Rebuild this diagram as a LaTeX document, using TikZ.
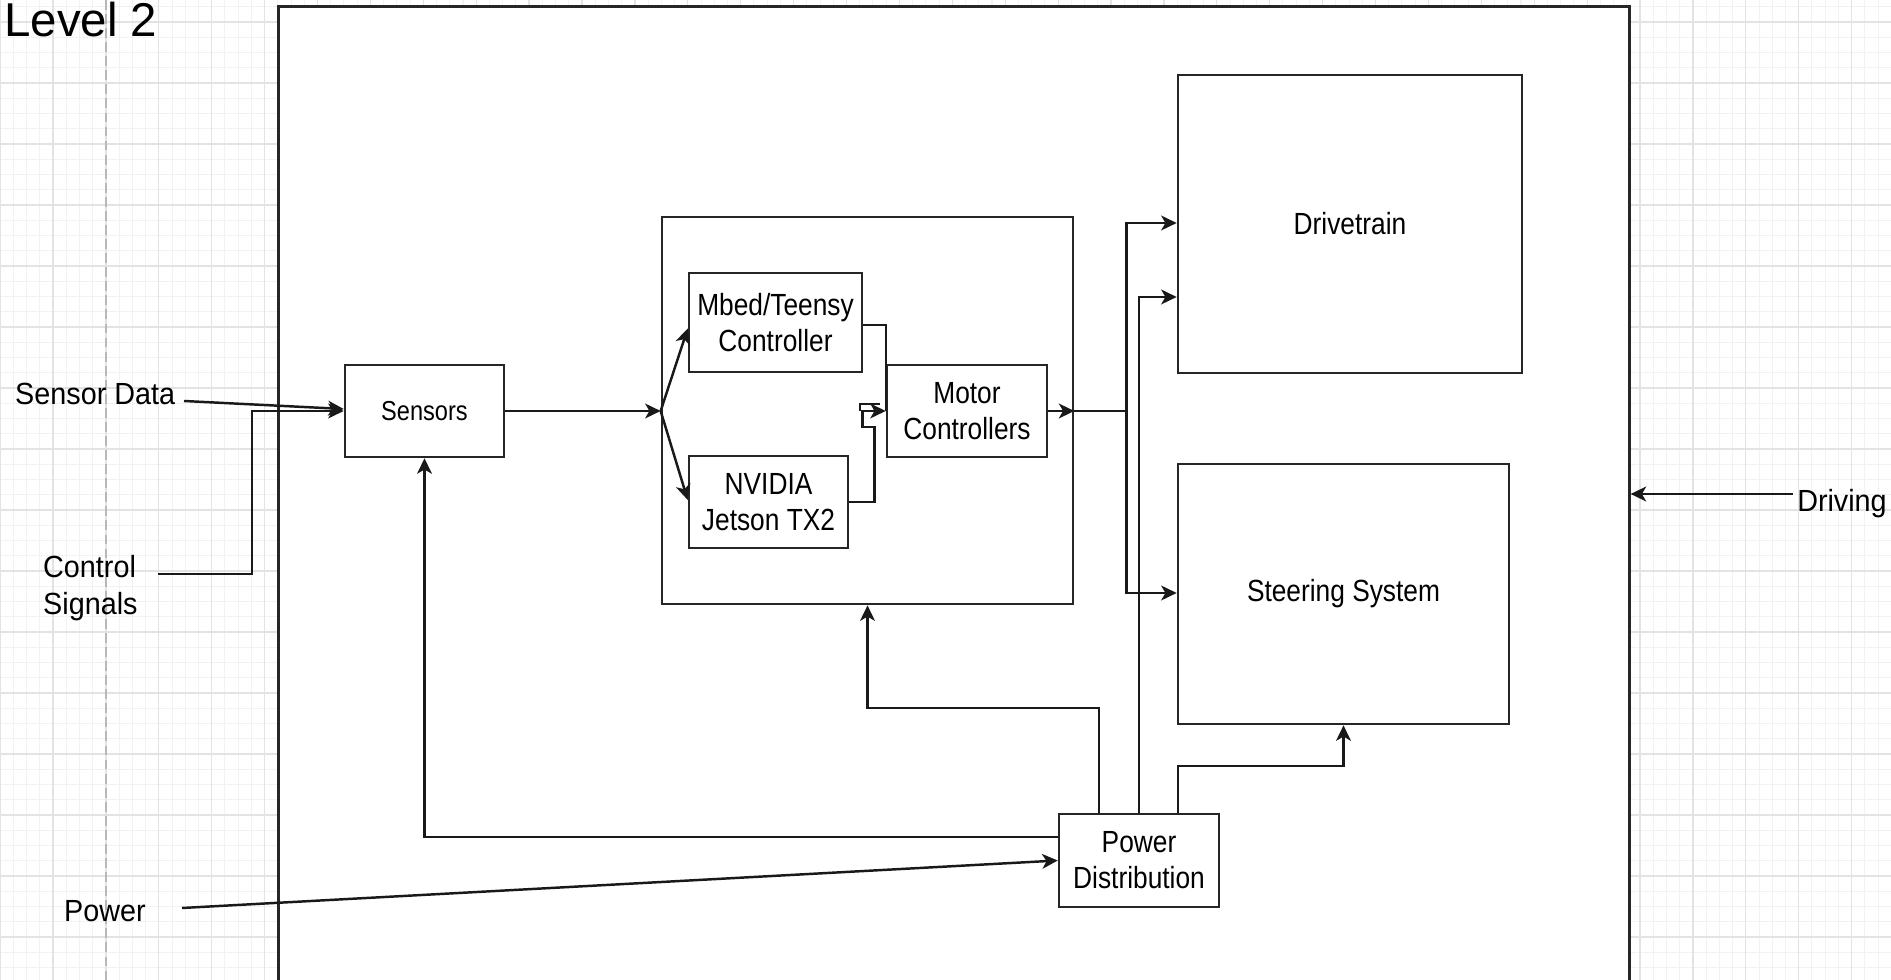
\documentclass[tikz,border=0pt]{standalone}
\usepackage{fontspec}
\setmainfont{Liberation Sans}[FakeStretch=0.86]
\newfontfamily\labelfont{Liberation Sans}[FakeStretch=0.94]
\newfontfamily\titlefont{Liberation Sans}
\usetikzlibrary{arrows.meta,calc}

\begin{document}
\begin{tikzpicture}[x=0.01cm, y=-0.01cm, line width=0.7pt,
    >={Stealth[length=4.4pt,width=4.2pt,inset=1.2pt]},
    blockbox/.style={draw=black!85, fill=white, align=center, inner sep=1pt,
        font=\fontsize{8.7}{10.2}\selectfont},
    extlabel/.style={inner sep=0pt, align=left, font=\labelfont\fontsize{8.7}{10.6}\selectfont},
    wire/.style={draw=black!90},
    gridminor/.style={draw=black!5, line width=0.3pt},
    gridmajor/.style={draw=black!11, line width=0.35pt}]

    \useasboundingbox (0,0) rectangle (1891,980);
    \clip (0,0) rectangle (1891,980);

    % Background grid
    \foreach \i in {0,...,143} \draw[gridminor] ({0.1+13.225*\i},0) -- ({0.1+13.225*\i},980);
    \foreach \j in {0,...,64} \draw[gridminor] (0,{6.75+15.25*\j}) -- (1891,{6.75+15.25*\j});
    \foreach \i in {0,...,35} \draw[gridmajor] ({0.1+52.9*\i},0) -- ({0.1+52.9*\i},980);
    \foreach \j in {0,...,15} \draw[gridmajor] (0,{22+61*\j}) -- (1891,{22+61*\j});
    \draw[black!28, line width=0.7pt, dash pattern=on 2.8pt off 1.2pt] (106,0) -- (106,980);

    % System boundary (runs off the bottom)
    \node[draw=black!85, fill=white, inner sep=0pt, minimum width=13.5cm, minimum height=9.93cm] (sys) at (954,503.5) {};

    % Title
    \node[anchor=base west, inner sep=0pt, font=\titlefont\fontsize{13.5}{15}\selectfont] (title) at (3,37) {Level 2};

    % Blocks
    \node[blockbox, font=\fontsize{7.8}{9}\selectfont, minimum width=1.59cm, minimum height=0.92cm] (sens) at (424.5,411) {Sensors};
    \node[blockbox, minimum width=4.11cm, minimum height=3.87cm] (cont) at (867.5,410.5) {};
    \node[blockbox, minimum width=1.73cm, minimum height=0.99cm] (mbed) at (775.5,322.5) {Mbed/Teensy\\Controller};
    \node[blockbox, minimum width=1.59cm, minimum height=0.92cm] (nvidia) at (768.5,502) {NVIDIA\\Jetson TX2};
    \node[blockbox, minimum width=1.60cm, minimum height=0.92cm] (motor) at (967,411) {Motor\\Controllers};
    \node[blockbox, minimum width=3.44cm, minimum height=2.98cm] (drive) at (1350,224) {Drivetrain};
    \node[blockbox, minimum width=3.31cm, minimum height=2.60cm] (steer) at (1343.5,594) {Steering System};
    \node[blockbox, minimum width=1.60cm, minimum height=0.93cm] (power) at (1139,860.5) {Power\\Distribution};

    % Outside labels
    \node[extlabel, anchor=base west] (sdata) at (14,405) {Sensor Data};
    \node[extlabel, anchor=west] (csig) at (42,588) {Control\\Signals};
    \node[extlabel, anchor=base west] (pwr) at (63,922) {Power};
    \node[extlabel, anchor=base west] (drv) at (1796,512) {Driving};

    % Free ends of the outside connectors
    \coordinate (sdin) at (184,401);
    \coordinate (csin) at (158,574);
    \coordinate (pwrin) at (182,908);
    \coordinate (drvin) at (1793,494);

    % Inputs into sensors
    \draw[wire, ->] (sdin) -- ($(sens.west)+(0,-2)$);
    \draw[wire, ->] (csin) -- ++(94,0) |- (sens.west);

    % Sensors to the two controllers
    \coordinate (fork) at (cont.west |- sens.east);
    \draw[wire, ->] (sens.east) -- (fork);
    \draw[wire, ->] (fork) -- ($(mbed.west)+(0,6)$);
    \draw[wire, ->] (fork) -- ($(nvidia.west)+(0,-2)$);

    % Controllers to motor controllers
    \draw[wire] ($(mbed.east)+(0,2.5)$) -| (motor.west);
    \draw[wire, ->] (nvidia.east) -- ++(25,0) -- ++(0,-75) -- ++(-12,0) |- (motor.west);
    \draw[wire] ($(motor.west)+(-26,0)$) -- ++(0,-7) -- ++(20,0);

    % Motor controllers to drivetrain and steering
    \draw[wire, ->] (motor.east) -- (motor.east -| cont.east);
    \draw[wire, ->] (motor.east -| cont.east) -- ++(52,0) coordinate (bus) |- ($(drive.west)+(0,-1)$);
    \draw[wire, ->] (bus) |- ($(steer.west)+(0,-1)$);

    % Power distribution
    \draw[wire, ->] (pwrin) -- (power.west);
    \draw[wire, ->] ($(power.west)+(0,-23.5)$) -| (sens.south);
    \draw[wire, ->] ($(power.north)+(-40,0)$) -- ++(0,-105) -| (cont.south);
    \draw[wire, ->] (power.north) |- ($(drive.west)+(0,73)$);
    \draw[wire, ->] ($(power.north)+(39,0)$) -- ++(0,-47) -| (steer.south);

    % Driving input
    \draw[wire, ->] (drvin) -- (drvin -| sys.east);

\end{tikzpicture}
\end{document}
